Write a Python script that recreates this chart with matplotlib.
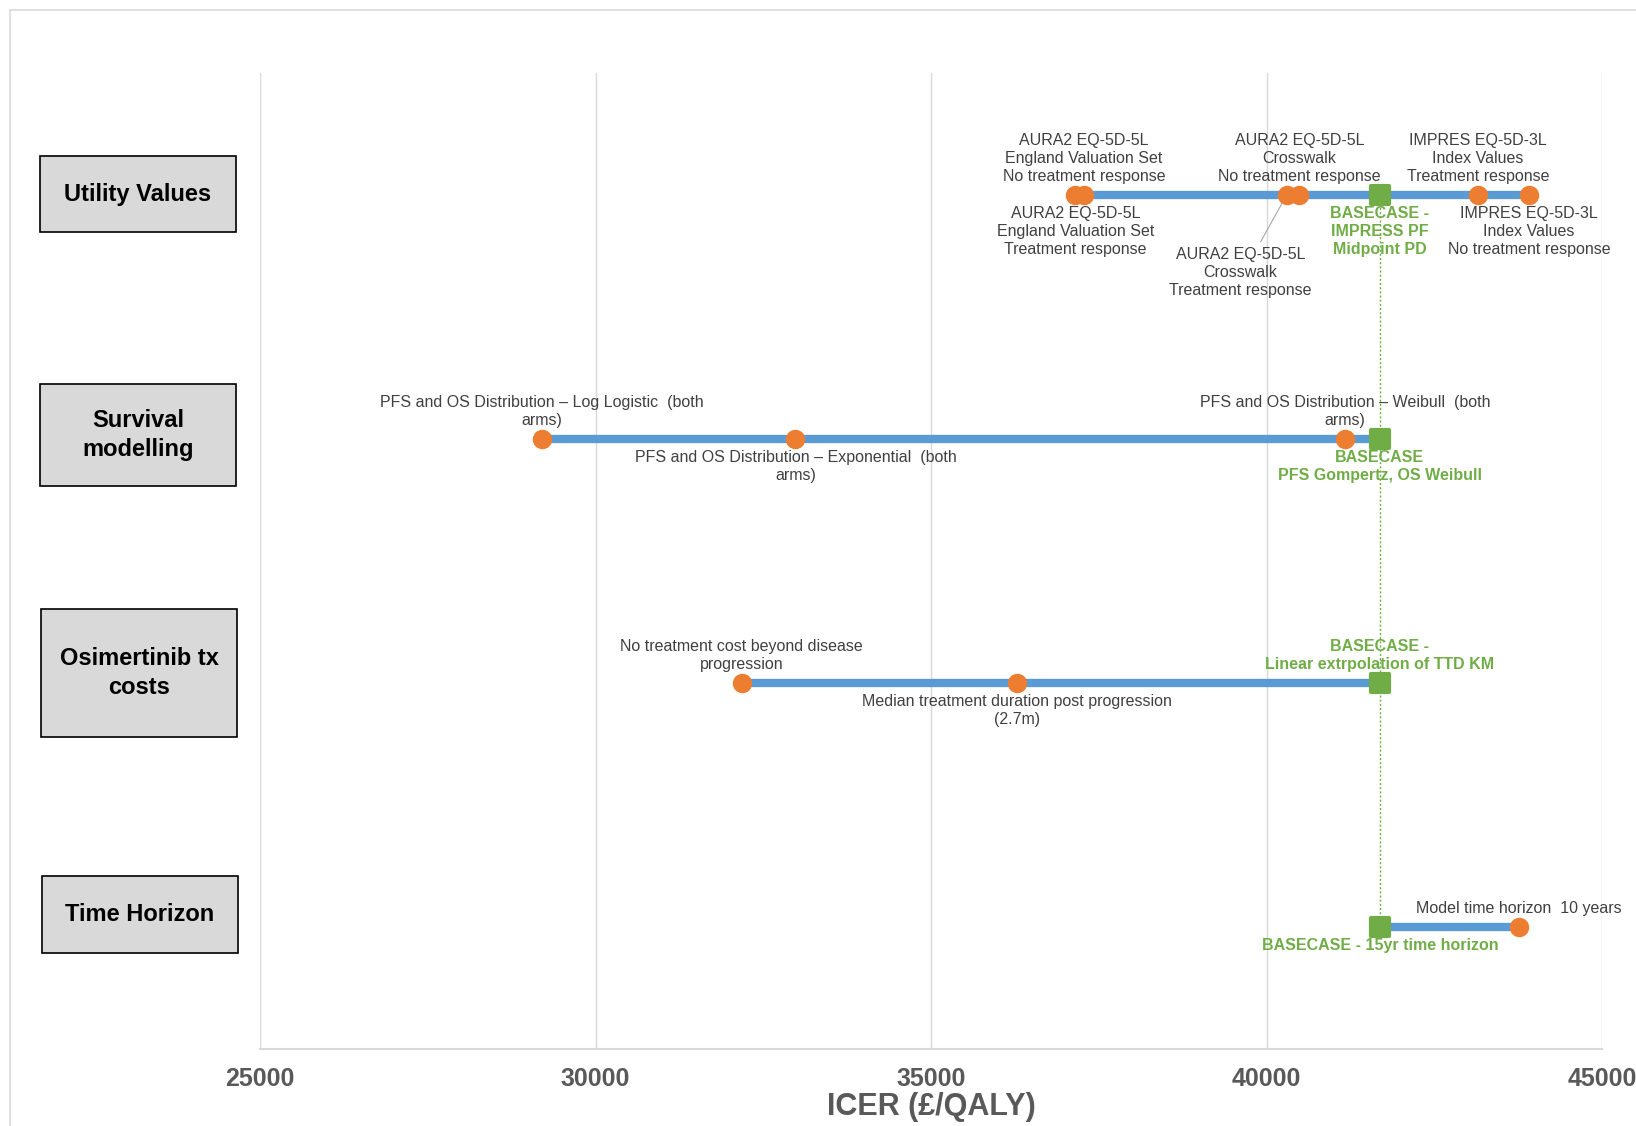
import matplotlib
matplotlib.use("Agg")
import matplotlib.pyplot as plt
from matplotlib.markers import MarkerStyle
from matplotlib.patches import Rectangle

plt.rcParams["font.family"] = ["Liberation Sans", "DejaVu Sans"]

# ---- data -------------------------------------------------------------
categories = ["Utility Values", "Survival\nmodelling", "Osimertinib tx\ncosts", "Time Horizon"]
row_pos = [4, 3, 2, 1]
basecase_icer = 41690

basecase_labels = [
    "BASECASE -\nIMPRESS PF\nMidpoint PD",
    "BASECASE\nPFS Gompertz, OS Weibull",
    "BASECASE -\nLinear extrpolation of TTD KM",
    "BASECASE - 15yr time horizon",
]
basecase_side = ["below", "below", "above", "below"]

utility_icer = [37150, 37280, 40300, 40490, 43150, 43910]
utility_labels = [
    "AURA2 EQ-5D-5L\nEngland Valuation Set\nTreatment response",
    "AURA2 EQ-5D-5L\nEngland Valuation Set\nNo treatment response",
    "AURA2 EQ-5D-5L\nCrosswalk\nTreatment response",
    "AURA2 EQ-5D-5L\nCrosswalk\nNo treatment response",
    "IMPRES EQ-5D-3L\nIndex Values\nTreatment response",
    "IMPRES EQ-5D-3L\nIndex Values\nNo treatment response",
]
utility_side = ["below", "above", "leader", "above", "above", "below"]

survival_icer = [29200, 32980, 41170]
survival_labels = [
    "PFS and OS Distribution \u2013 Log Logistic  (both\narms)",
    "PFS and OS Distribution \u2013 Exponential  (both\narms)",
    "PFS and OS Distribution \u2013 Weibull  (both\narms)",
]
survival_side = ["above", "below", "above"]

osim_icer = [32180, 36280]
osim_labels = [
    "No treatment cost beyond disease\nprogression",
    "Median treatment duration post progression\n(2.7m)",
]
osim_side = ["above", "below"]

horizon_icer = [43760]
horizon_labels = ["Model time horizon  10 years"]
horizon_side = ["above"]

x_ticks = [25000, 30000, 35000, 40000, 45000]
x_title = "ICER (\u00a3/QALY)"

# ---- styling ----------------------------------------------------------
BLUE = "#5b9bd5"
ORANGE = "#ed7d31"
GREEN = "#70ad47"
GRID = "#d9d9d9"
TXT = "#404040"

W, H = 1636, 1126
fig = plt.figure(figsize=(W / 100, H / 100), dpi=100)
ax = fig.add_axes([260 / W, 1 - 1049 / H, (1602 - 260) / W, (1049 - 73) / H])

ax.set_xlim(x_ticks[0], x_ticks[-1])
ax.set_ylim(0.5, 4.5)
ax.set_xticks(x_ticks)
ax.set_xticklabels([str(t) for t in x_ticks], fontsize=18, fontweight="bold", color="#595959")
ax.tick_params(axis="x", length=0, pad=13)
ax.set_yticks([])
ax.grid(axis="x", color=GRID, lw=1.0)
ax.set_axisbelow(True)
for side in ["top", "right", "left"]:
    ax.spines[side].set_visible(False)
ax.spines["bottom"].set_color(GRID)
ax.spines["bottom"].set_linewidth(1.5)
ax.set_xlabel(x_title, fontsize=22, fontweight="bold", color="#595959", labelpad=1)

# dotted reference line through the base case
ax.plot([basecase_icer, basecase_icer], [row_pos[0], row_pos[-1]],
        color=GREEN, lw=1.0, ls=(0, (1.5, 1.5)), zorder=1)

rows = [
    (utility_icer, utility_labels, utility_side),
    (survival_icer, survival_labels, survival_side),
    (osim_icer, osim_labels, osim_side),
    (horizon_icer, horizon_labels, horizon_side),
]

sq = MarkerStyle("s", joinstyle="round")
LABEL_FS = 11.5
LS = 1.25
GAP = 11  # pixels between a marker and its label

for y, (vals, labels, sides), bc_lab, bc_side in zip(row_pos, rows, basecase_labels, basecase_side):
    all_x = vals + [basecase_icer]
    ax.plot([min(all_x), max(all_x)], [y, y], color=BLUE, lw=6, solid_capstyle="butt", zorder=2)
    ax.plot(vals, [y] * len(vals), ls="none", marker="o", ms=13,
            mfc=ORANGE, mec=ORANGE, zorder=4)
    ax.plot([basecase_icer], [y], ls="none", marker=sq, ms=12.5,
            mfc=GREEN, mec=GREEN, mew=3, zorder=5)

    for v, lab, side in zip(vals, labels, sides):
        if side == "above":
            ax.annotate(lab, (v, y), xytext=(0, GAP), textcoords="offset pixels",
                        ha="center", va="bottom", fontsize=LABEL_FS, color=TXT,
                        linespacing=LS)
        elif side == "below":
            ax.annotate(lab, (v, y), xytext=(0, -GAP), textcoords="offset pixels",
                        ha="center", va="top", fontsize=LABEL_FS, color=TXT,
                        linespacing=LS)
        else:
            ax.annotate(lab, (v, y), xytext=(-46, -52), textcoords="offset pixels",
                        ha="center", va="top", fontsize=LABEL_FS, color=TXT,
                        linespacing=LS,
                        arrowprops=dict(arrowstyle="-", color="#a6a6a6", lw=0.8,
                                        shrinkA=2, shrinkB=6, relpos=(0.62, 1.0)))

    off = GAP if bc_side == "above" else -GAP
    ax.annotate(bc_lab, (basecase_icer, y), xytext=(0, off), textcoords="offset pixels",
                ha="center", va="bottom" if bc_side == "above" else "top",
                fontsize=LABEL_FS, fontweight="bold", color=GREEN, linespacing=LS)

# category boxes to the left of the plot area (figure pixel layout)
boxes = [(40, 156, 196, 76), (40, 384, 196, 102), (41, 609, 196, 128), (42, 876, 196, 77)]
for (bx, by, bw, bh), name in zip(boxes, categories):
    fig.patches.append(Rectangle((bx / W, 1 - (by + bh) / H), bw / W, bh / H,
                                 transform=fig.transFigure, facecolor="#d9d9d9",
                                 edgecolor="#000000", lw=1.2))
    fig.text((bx + bw / 2) / W, 1 - (by + bh / 2) / H, name, ha="center", va="center",
             fontsize=17, fontweight="bold", color="#000000", linespacing=1.35)

# thin outer frame of the chart area
fig.patches.append(Rectangle((10 / W, -0.05), 1.1, 1 - 10 / H + 0.05,
                             transform=fig.transFigure, facecolor="none",
                             edgecolor=GRID, lw=1.2))

fig.savefig("out.png", dpi=100)
